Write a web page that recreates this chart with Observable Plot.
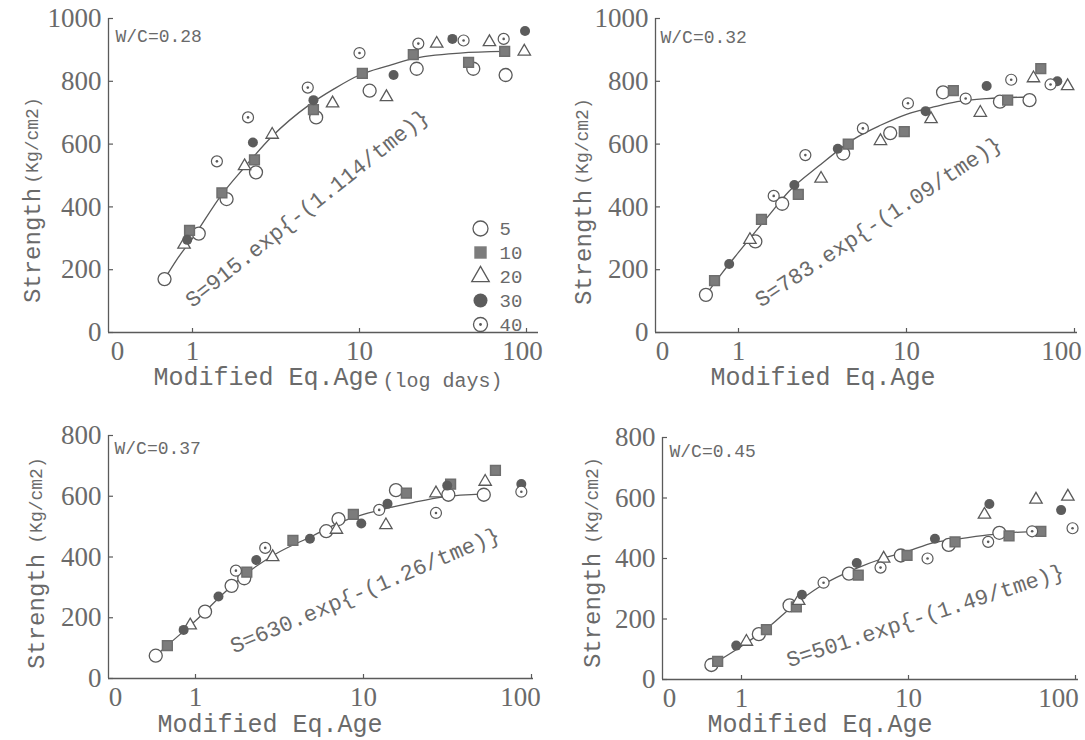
<!DOCTYPE html>
<html><head><meta charset="utf-8">
<script src="https://cdn.jsdelivr.net/npm/d3@7"></script>
<script src="https://cdn.jsdelivr.net/npm/@observablehq/plot@0.6"></script>
<style>
body{margin:0;background:#fff;}
#chart{position:relative;width:1085px;height:740px;overflow:hidden;background:#fff;}
#chart svg{position:absolute;overflow:visible;}
</style></head><body><div id="chart"></div>
<script>
// ---------- data ----------
const xTickValues = [1, 10, 100];
const xTickLabels = ["0", "1", "10", "100"];
const yTicks1000 = [0, 200, 400, 600, 800, 1000];
const yTicks800 = [0, 200, 400, 600, 800];
const legendLabels = ["5", "10", "20", "30", "40"];

// W/C = 0.28
const tlAge      = [0.68,0.89,0.96,0.93,1.09,1.5,1.6,1.4,2.05,2.4,2.35,2.3,3.0,2.15,4.9,5.3,5.5,5.3,6.9,10,10.4,11.5,14.5,16,22,21,22.5,29,36,42,48,45,60,73,74,75,98,97];
const tlStrength = [170,280,325,295,315,445,425,545,530,510,550,605,630,685,780,740,685,710,730,890,825,770,750,820,840,885,920,920,935,930,840,860,925,935,895,820,960,895];
const tlTemp     = [5,20,10,30,5,10,5,40,20,5,10,30,20,40,40,30,5,10,20,40,10,5,20,30,5,10,40,20,30,40,5,10,20,40,10,5,30,20];
const tlCurveAge = [0.68,0.8,1,1.5,2,3,5,7,10,15,20,40,74];
const tlCurveS   = [170,230,300,440,520,625,725,775,820,850,870,890,895];

// W/C = 0.32
const trAge      = [0.64,0.72,0.88,1.17,1.26,1.37,1.62,1.82,2.15,2.27,2.5,3.1,3.9,4.2,4.5,5.5,7.0,8.0,9.7,10.2,13,14,16.5,19,22.5,27.5,30,36,40,42,54,57,63,72,79,91];
const trStrength = [120,165,218,295,290,360,435,410,470,440,565,490,585,570,600,650,610,635,640,730,705,680,765,770,745,700,785,735,740,805,740,810,840,790,800,785];
const trTemp     = [5,10,30,20,5,10,40,5,30,10,40,20,30,5,10,40,20,5,10,40,30,20,5,10,40,20,30,5,10,40,5,20,10,40,30,20];
const trCurveAge = [0.64,0.8,1,1.5,2,3,5,7,10,15,20,30,54];
const trCurveS   = [120,190,255,370,450,530,620,660,695,720,735,745,750];

// W/C = 0.37
const blAge      = [0.58,0.68,0.85,0.93,1.14,1.37,1.64,1.74,1.95,2.02,2.3,2.88,2.6,3.8,4.8,6.0,6.9,7.1,8.7,9.7,12.4,13.9,13.6,15.6,18,27,27,32,33,31.5,52,53,61,87,87];
const blStrength = [75,108,160,175,220,270,305,355,330,350,390,400,430,455,460,485,490,525,540,510,555,575,505,620,610,545,610,605,640,635,605,648,685,640,615];
const blTemp     = [5,10,30,20,5,30,5,40,5,10,30,20,40,10,30,5,20,5,10,30,40,30,20,5,10,40,20,5,10,30,5,20,10,30,40];
const blCurveAge = [0.58,0.7,1,1.5,2,3,5,7,10,15,20,30,52];
const blCurveS   = [75,115,190,285,345,410,470,510,540,565,580,598,608];

// W/C = 0.45
const brAge      = [0.66,0.72,0.93,1.07,1.27,1.41,1.94,2.13,2.2,2.3,3.1,4.4,5.0,4.9,6.8,7.1,9.0,9.8,13,14.4,17.4,19,30,28.5,30.5,35,40,55,62,58,82,90,96];
const brStrength = [48,60,112,125,150,165,245,240,260,280,320,350,345,385,370,400,410,410,400,465,445,455,455,545,580,485,475,490,490,595,560,605,500];
const brTemp     = [5,10,30,20,5,10,5,10,20,30,40,5,10,30,40,20,5,10,40,30,5,10,40,20,30,5,10,40,10,20,30,20,40];
const brCurveAge = [0.66,1,1.5,2,3,5,7,10,14,20,30,40,62];
const brCurveS   = [48,110,180,240,310,370,400,425,452,465,478,485,490];

// ---------- styling ----------
const INK = "#5a5a5a", TXT = "#6a6a6a";
const NUM_FONT = "Liberation Serif", TXT_FONT = "Liberation Mono";

function rows(age, s, t) { return age.map((a, i) => ({age: a, s: s[i], t: t[i]})); }
function curve(age, s) { return age.map((a, i) => ({age: a, s: s[i]})); }

function seriesMarks(data) {
  return [
    Plot.dot(data.filter(d => d.t === 5),  {x: "age", y: "s", r: 6.5, fill: "white", stroke: INK, strokeWidth: 1.3}),
    Plot.dot(data.filter(d => d.t === 10), {x: "age", y: "s", symbol: "square", r: 5.5, fill: "#7c7c7c", stroke: "#6e6e6e"}),
    Plot.dot(data.filter(d => d.t === 20), {x: "age", y: "s", symbol: "triangle", r: 4.6, fill: "white", stroke: INK, strokeWidth: 1.3}),
    Plot.dot(data.filter(d => d.t === 30), {x: "age", y: "s", r: 5, fill: "#5c5c5c"}),
    Plot.dot(data.filter(d => d.t === 40), {x: "age", y: "s", r: 5.5, fill: "white", stroke: INK, strokeWidth: 1.2}),
    Plot.dot(data.filter(d => d.t === 40), {x: "age", y: "s", r: 1.3, fill: INK})
  ];
}

const panels = [
  {pos: [0, 0], size: [545, 395], frame: {left: 108, right: 538, top: 18, bottom: 332}, px1: 192, px10: 359, zeroX: 117, hundredDx: -4,
   yMax: 1000, yTicks: yTicks1000, wc: "W/C=0.28", wcOff: [7, 11],
   eq: "S=915.exp{-(1.114/tme)}", eqPos: [193, 183, -38.5],
   yl: [[-86, 227], [-83, 122]], xl: [45, 52], logDays: true,
   pts: rows(tlAge, tlStrength, tlTemp), line: curve(tlCurveAge, tlCurveS)},
  {pos: [545, 0], size: [540, 395], frame: {left: 110, right: 532, top: 18, bottom: 332}, px1: 193, px10: 361, zeroX: 117, hundredDx: -13,
   yMax: 1000, yTicks: yTicks1000, wc: "W/C=0.32", wcOff: [5, 12],
   eq: "S=783.exp{-(1.09/tme)}", eqPos: [218, 196, -33.5],
   yl: [[-82, 229], [-80, 123]], xl: [55, 52], logDays: false,
   pts: rows(trAge, trStrength, trTemp), line: curve(trCurveAge, trCurveS)},
  {pos: [0, 395], size: [545, 345], frame: {left: 108, right: 533, top: 40, bottom: 283}, px1: 195, px10: 363, zeroX: 115, hundredDx: -11,
   yMax: 800, yTicks: yTicks800, wc: "W/C=0.37", wcOff: [6, 6],
   eq: "S=630.exp{-(1.26/tme)}", eqPos: [253, 147, -23],
   yl: [[-82, 176], [-79, 65]], xl: [49, 53], logDays: false,
   pts: rows(blAge, blStrength, blTemp), line: curve(blCurveAge, blCurveS)},
  {pos: [545, 395], size: [540, 345], frame: {left: 117, right: 533, top: 42, bottom: 284}, px1: 196, px10: 363, zeroX: 124, hundredDx: -17,
   yMax: 800, yTicks: yTicks800, wc: "W/C=0.45", wcOff: [7, 7],
   eq: "S=501.exp{-(1.49/tme)}", eqPos: [260, 170, -18],
   yl: [[-80, 173], [-77, 63]], xl: [45, 52], logDays: false,
   pts: rows(brAge, brStrength, brTemp), line: curve(brCurveAge, brCurveS)}
];

const root = document.getElementById("chart");

for (const p of panels) {
  const [W, H] = p.size, f = p.frame;
  const dec = p.px10 - p.px1;
  const xDomain = [Math.pow(10, (f.left - p.px1) / dec), Math.pow(10, (f.right - p.px1) / dec)];
  const zeroVal = Math.pow(10, (p.zeroX - p.px1) / dec);
  const frameW = f.right - f.left, frameH = f.bottom - f.top;
  const tickText = {frameAnchor: "bottom", lineAnchor: "top", dy: 8, fontFamily: NUM_FONT, fontSize: 27, fill: TXT};
  const marks = [
    Plot.ruleY([0], {stroke: INK, strokeWidth: 1.3}),
    Plot.ruleX([xDomain[0]], {stroke: INK, strokeWidth: 1.3}),
    Plot.tickY(p.yTicks, {y: d => d, insetRight: frameW - 5, stroke: INK, strokeWidth: 1.2}),
    Plot.tickX(xTickValues, {x: d => d, insetTop: frameH - 4, stroke: INK, strokeWidth: 1.2}),
    Plot.axisY({ticks: p.yTicks, tickSize: 0, tickPadding: 7, fontFamily: NUM_FONT, fontSize: 27, fill: TXT, label: null, tickFormat: d => String(d)}),
    Plot.text([xTickLabels[0]], {x: () => zeroVal, ...tickText}),
    Plot.text([xTickLabels[1]], {x: () => xTickValues[0], ...tickText}),
    Plot.text([xTickLabels[2]], {x: () => xTickValues[1], ...tickText}),
    Plot.text([xTickLabels[3]], {x: () => xTickValues[2], ...tickText, dx: p.hundredDx}),
    Plot.line(p.line, {x: "age", y: "s", curve: "monotone-x", stroke: INK, strokeWidth: 1.3}),
    ...seriesMarks(p.pts),
    Plot.text([p.wc], {frameAnchor: "top-left", dx: p.wcOff[0], dy: p.wcOff[1], textAnchor: "start", fontFamily: TXT_FONT, fontSize: 18, fill: TXT}),
    Plot.text([p.eq], {frameAnchor: "top-left", dx: p.eqPos[0], dy: p.eqPos[1], rotate: p.eqPos[2], textAnchor: "middle", fontFamily: TXT_FONT, fontSize: 22, fill: TXT}),
    Plot.text(["Strength"], {frameAnchor: "top-left", dx: p.yl[0][0], dy: p.yl[0][1], rotate: -90, textAnchor: "middle", fontFamily: TXT_FONT, fontSize: 24, fill: TXT}),
    Plot.text(["(Kg/cm2)"], {frameAnchor: "top-left", dx: p.yl[1][0], dy: p.yl[1][1], rotate: -90, textAnchor: "middle", fontFamily: TXT_FONT, fontSize: 18, fill: TXT}),
    Plot.text(["Modified Eq.Age"], {frameAnchor: "bottom-left", dx: p.xl[0], dy: p.xl[1], textAnchor: "start", fontFamily: TXT_FONT, fontSize: 25, fill: TXT})
  ];
  if (p.logDays) marks.push(Plot.text(["(log days)"], {frameAnchor: "bottom-left", dx: p.xl[0] + 229, dy: p.xl[1] + 2, textAnchor: "start", fontFamily: TXT_FONT, fontSize: 20, fill: TXT}));
  const svg = Plot.plot({
    width: W, height: H,
    marginLeft: f.left, marginRight: W - f.right, marginTop: f.top, marginBottom: H - f.bottom,
    x: {type: "log", domain: xDomain, axis: null},
    y: {domain: [0, p.yMax], axis: null},
    style: {background: "transparent", color: TXT, fontFamily: TXT_FONT, overflow: "visible"},
    marks
  });
  svg.style.left = p.pos[0] + "px";
  svg.style.top = p.pos[1] + "px";
  root.appendChild(svg);
}

// legend (top-left panel)
const legendData = legendLabels.map(l => ({label: l, t: +l}));
const legend = Plot.plot({
  width: 70, height: 128, margin: 0,
  y: {type: "point", domain: legendLabels, range: [15, 113], padding: 0, axis: null},
  style: {background: "transparent", overflow: "visible"},
  marks: [
    Plot.dot(legendData.filter(d => d.t === 5),  {y: "label", frameAnchor: "left", dx: 15, r: 7.5, fill: "white", stroke: INK, strokeWidth: 1.3}),
    Plot.dot(legendData.filter(d => d.t === 10), {y: "label", frameAnchor: "left", dx: 15, symbol: "square", r: 7, fill: "#7c7c7c"}),
    Plot.dot(legendData.filter(d => d.t === 20), {y: "label", frameAnchor: "left", dx: 15, symbol: "triangle", r: 6.5, fill: "white", stroke: INK, strokeWidth: 1.3}),
    Plot.dot(legendData.filter(d => d.t === 30), {y: "label", frameAnchor: "left", dx: 15, r: 7, fill: "#5c5c5c"}),
    Plot.dot(legendData.filter(d => d.t === 40), {y: "label", frameAnchor: "left", dx: 15, r: 7, fill: "white", stroke: INK, strokeWidth: 1.3}),
    Plot.dot(legendData.filter(d => d.t === 40), {y: "label", frameAnchor: "left", dx: 15, r: 1.4, fill: INK}),
    Plot.text(legendData, {y: "label", text: "label", frameAnchor: "left", dx: 34, textAnchor: "start", fontFamily: TXT_FONT, fontSize: 19, fill: TXT})
  ]
});
legend.style.left = "465px";
legend.style.top = "212px";
root.appendChild(legend);
</script>
</body></html>
